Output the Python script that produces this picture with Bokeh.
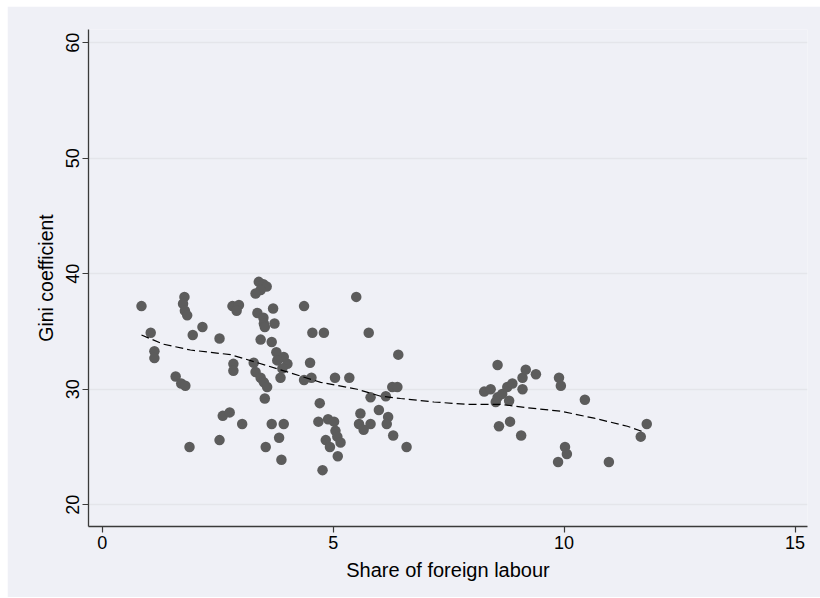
from bokeh.plotting import figure
from bokeh.models import Range1d, FixedTicker, Spacer
from bokeh.layouts import row, column
from bokeh.embed import file_html
from bokeh.resources import INLINE

# Scatter data: share of foreign labour (x) vs Gini coefficient (y)
share_foreign = [
    0.85, 1.05, 1.13, 1.13, 1.59, 1.71, 1.80, 1.89, 1.78, 1.75, 1.79, 1.84,
    1.96, 2.17, 2.54, 2.54, 2.61, 2.76, 2.84, 2.84, 3.03, 2.82, 2.96, 2.91,
    3.39, 3.49, 3.56, 3.43, 3.32, 3.70, 3.36, 3.49, 3.50, 3.52, 3.73, 3.43,
    3.67, 3.77, 3.93, 3.79, 4.01, 3.90, 3.86, 3.28, 3.32, 3.43, 3.50, 3.57,
    3.52, 3.67, 3.93, 3.83, 3.54, 3.88, 4.37, 4.55, 4.80, 4.50, 4.53, 4.37,
    4.71, 4.68, 4.89, 5.02, 5.05, 5.09, 5.16, 4.84, 4.93, 5.10, 4.77, 5.50,
    5.77, 6.41, 5.04, 5.35, 5.59, 5.56, 5.66, 5.81, 5.81, 5.99, 6.14, 6.28,
    6.39, 6.19, 6.16, 6.30, 6.59, 8.56, 8.27, 8.41, 8.52, 8.56, 8.66, 8.77,
    8.88, 9.10, 8.81, 9.10, 9.17, 9.39, 8.59, 8.83, 9.07, 9.89, 9.93, 10.45,
    10.02, 10.06, 9.87, 10.97, 11.79, 11.66,
]
gini = [
    37.2, 34.9, 33.3, 32.7, 31.1, 30.5, 30.3, 25.0, 38.0, 37.4, 36.8, 36.4,
    34.7, 35.4, 34.4, 25.6, 27.7, 28.0, 32.2, 31.6, 27.0, 37.2, 37.3, 36.8,
    39.3, 39.1, 38.9, 38.6, 38.3, 37.0, 36.6, 36.2, 35.7, 35.4, 35.7, 34.3,
    34.1, 33.2, 32.8, 32.5, 32.2, 31.8, 31.0, 32.3, 31.5, 31.0, 30.6, 30.2,
    29.2, 27.0, 27.0, 25.8, 25.0, 23.9, 37.2, 34.9, 34.9, 32.3, 31.0, 30.8,
    28.8, 27.2, 27.4, 27.2, 26.4, 25.9, 25.4, 25.6, 25.0, 24.2, 23.0, 38.0,
    34.9, 33.0, 31.0, 31.0, 27.9, 27.0, 26.5, 27.0, 29.3, 28.2, 29.4, 30.2,
    30.2, 27.6, 27.0, 26.0, 25.0, 32.1, 29.8, 30.0, 28.9, 29.3, 29.6, 30.2,
    30.5, 30.0, 29.0, 31.0, 31.7, 31.3, 26.8, 27.2, 26.0, 31.0, 30.3, 29.1,
    25.0, 24.4, 23.7, 23.7, 27.0, 25.9,
]

# Locally weighted (lowess) smooth
lowess_x = [0.85, 1.33, 1.91, 2.78, 3.36, 3.93, 4.73, 5.52, 6.03, 6.46,
            7.18, 7.90, 8.63, 9.20, 9.93, 10.65, 11.37, 11.73]
lowess_y = [34.7, 33.9, 33.4, 33.0, 32.3, 31.6, 30.6, 30.0, 29.4, 29.2,
            28.9, 28.7, 28.7, 28.4, 28.1, 27.5, 26.8, 26.3]

x_ticks = [0, 5, 10, 15]
y_ticks = [20, 30, 40, 50, 60]
x_title = "Share of foreign labour"
y_title = "Gini coefficient"

BG = "#eff0f6"
FONT = "Liberation Sans"

p = figure(width=813, height=591, output_backend="svg", toolbar_location=None,
           x_range=Range1d(-0.297, 15.27), y_range=Range1d(18.12, 61.15),
           background_fill_color=BG, border_fill_color=BG,
           min_border_left=81, min_border_right=13, min_border_top=23,
           min_border_bottom=71)
p.outline_line_color = None

p.scatter(x=share_foreign, y=gini, size=10.5, color="#5c5c5c", line_color=None)
p.line(x=lowess_x, y=lowess_y, line_color="black", line_width=1.2,
       line_dash="8 4")

p.xgrid.grid_line_color = None
p.ygrid.grid_line_color = "#e4e5ea"
p.ygrid.grid_line_width = 1.3

p.xaxis.ticker = FixedTicker(ticks=x_ticks)
p.yaxis.ticker = FixedTicker(ticks=y_ticks)
p.xaxis.axis_label = x_title
p.yaxis.axis_label = y_title

for ax in (p.xaxis[0], p.yaxis[0]):
    ax.axis_line_color = "#3a3a3a"
    ax.axis_line_width = 1.3
    ax.major_tick_line_color = "#3a3a3a"
    ax.major_tick_line_width = 1.2
    ax.major_tick_out = 6
    ax.major_tick_in = 0
    ax.minor_tick_line_color = None
    ax.major_label_text_font = FONT
    ax.major_label_text_font_size = "18px"
    ax.major_label_text_color = "black"
    ax.axis_label_text_font = FONT
    ax.axis_label_text_font_style = "normal"
    ax.axis_label_text_color = "black"
    ax.major_label_standoff = 3
    ax.axis_label_standoff = 7

p.xaxis.axis_label_text_font_size = "20px"
p.yaxis.axis_label_text_font_size = "19.5px"
p.yaxis.major_label_orientation = "vertical"

layout = row(Spacer(width=7, height=597), column(Spacer(width=813, height=6), p))

open("out.html", "w").write(file_html(layout, INLINE))
